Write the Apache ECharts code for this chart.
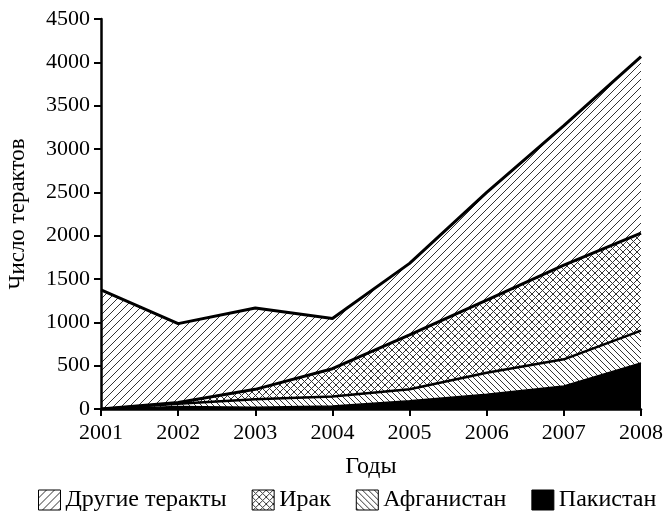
<!DOCTYPE html>
<html>
<head>
<meta charset="utf-8">
<script src="https://cdn.jsdelivr.net/npm/echarts@6/dist/echarts.min.js"></script>
<style>
  html, body { margin: 0; padding: 0; background: #fff; }
  #chart { width: 664px; height: 519px; }
</style>
</head>
<body>
<div id="chart"></div>
<script>
// годы и значения (по слоям, снизу вверх)
const years = ['2001', '2002', '2003', '2004', '2005', '2006', '2007', '2008'];
const pakistan = [0, 30, 20, 35, 95, 170, 265, 530];
const afghanistan = [0, 30, 92, 110, 132, 248, 308, 375];
const iraq = [0, 15, 115, 320, 628, 838, 1086, 1125];
const other = [1375, 910, 938, 580, 825, 1244, 1611, 2035];
const legendNames = ['Другие теракты', 'Ирак', 'Афганистан', 'Пакистан'];

const font = '"Liberation Serif", "DejaVu Serif", serif';

// штриховка через canvas-паттерн
function hatch(size, dirs) {
  const c = document.createElement('canvas');
  c.width = size;
  c.height = size;
  const ctx = c.getContext('2d');
  ctx.fillStyle = '#fff';
  ctx.fillRect(0, 0, size, size);
  ctx.strokeStyle = '#333';
  ctx.lineWidth = 1;
  dirs.forEach(d => {
    ctx.beginPath();
    if (d === '/') {
      ctx.moveTo(-1, size + 1); ctx.lineTo(size + 1, -1);
      ctx.moveTo(-1, 1); ctx.lineTo(1, -1);
      ctx.moveTo(size - 1, size + 1); ctx.lineTo(size + 1, size - 1);
    } else {
      ctx.moveTo(-1, -1); ctx.lineTo(size + 1, size + 1);
      ctx.moveTo(size - 1, -1); ctx.lineTo(size + 1, 1);
      ctx.moveTo(-1, size - 1); ctx.lineTo(1, size + 1);
    }
    ctx.stroke();
  });
  return { image: c, repeat: 'repeat' };
}

const fills = {
  'Другие теракты': hatch(8, ['/']),
  'Ирак': hatch(7, ['/', '\\']),
  'Афганистан': hatch(6, ['\\']),
  'Пакистан': '#000'
};

function layer(name, data, lw) {
  return {
    name: name,
    type: 'line',
    stack: 'all',
    data: data,
    showSymbol: false,
    symbol: 'none',
    lineStyle: { color: '#000', width: lw },
    areaStyle: { color: fills[name], opacity: 1 },
    itemStyle: { color: '#000' },
    emphasis: { disabled: true },
    z: 2
  };
}

const chart = echarts.init(document.getElementById('chart'));
chart.setOption({
  animation: false,
  backgroundColor: '#fff',
  grid: { left: 101, right: 23, top: 19, bottom: 110, containLabel: false, outerBoundsMode: 'none' },
  legend: {
    bottom: 2,
    left: 33,
    itemWidth: 22,
    itemHeight: 20,
    itemGap: 25,
    textStyle: { fontFamily: font, fontSize: 24, color: '#000' },
    data: legendNames.map(n => ({
      name: n,
      icon: 'rect',
      itemStyle: { color: fills[n], borderColor: '#000', borderWidth: 1 }
    }))
  },
  xAxis: {
    type: 'category',
    data: years,
    boundaryGap: false,
    name: 'Годы',
    nameLocation: 'middle',
    nameGap: 46,
    nameTextStyle: { fontFamily: font, fontSize: 24, color: '#000' },
    axisLine: { lineStyle: { color: '#000', width: 2.5 } },
    axisTick: { show: true, length: 7, lineStyle: { color: '#000', width: 2 } },
    axisLabel: { fontFamily: font, fontSize: 22, color: '#000', margin: 13 },
    splitLine: { show: false },
    z: 5
  },
  yAxis: {
    type: 'value',
    min: 0,
    max: 4500,
    interval: 500,
    name: 'Число терактов',
    nameLocation: 'middle',
    nameGap: 72,
    nameTextStyle: { fontFamily: font, fontSize: 23, color: '#000' },
    axisLine: { show: true, lineStyle: { color: '#000', width: 2.5 } },
    axisTick: { show: true, length: 7, lineStyle: { color: '#000', width: 2 } },
    axisLabel: { fontFamily: font, fontSize: 22, color: '#000', margin: 11, formatter: v => String(v) },
    splitLine: { show: false },
    z: 5
  },
  series: [
    layer('Пакистан', pakistan, 1.5),
    layer('Афганистан', afghanistan, 2.5),
    layer('Ирак', iraq, 3),
    layer('Другие теракты', other, 3)
  ]
});
</script>
</body>
</html>
